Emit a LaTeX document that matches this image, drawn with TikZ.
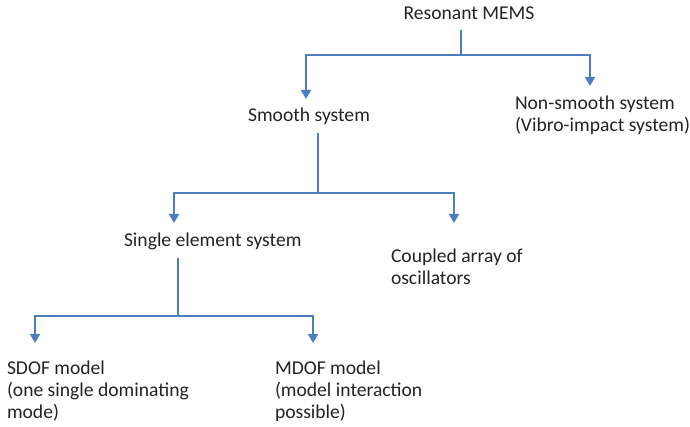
\documentclass[tikz,border=0pt]{standalone}
\usepackage{fontspec}
\setmainfont{Carlito}
\usetikzlibrary{arrows.meta}
\definecolor{lineblue}{RGB}{74,126,193}
\definecolor{txt}{RGB}{35,35,35}
\begin{document}
\begin{tikzpicture}[x=1pt,y=-1pt,
  lbl/.style={inner sep=0pt,outer sep=0pt,text=txt,font=\fontsize{19.6}{22}\selectfont,align=left},
  conn/.style={draw=lineblue,line width=1.8pt},
  arr/.style={conn,-{Triangle[width=10pt,length=9pt]}}]
\useasboundingbox (0,0) rectangle (690,427);
% labels (base = baseline of the last line)
\node[lbl,anchor=base] (res) at (469,20) {Resonant MEMS};
\node[lbl,anchor=base] (smooth) at (309,122) {Smooth system};
\node[lbl,anchor=base west] (nonsmooth) at (515,132) {Non-smooth system\\(Vibro-impact system)};
\node[lbl,anchor=base west] (single) at (124,247) {Single element system};
\node[lbl,anchor=base west] (coupled) at (391,285) {Coupled array of\\oscillators};
\node[lbl,anchor=base west] (sdof) at (7,418) {SDOF model\\(one single dominating\\mode)};
\node[lbl,anchor=base west] (mdof) at (275,418) {MDOF model\\(model interaction\\possible)};
% junction coordinates
\coordinate (s1) at (461,30);
\coordinate (j1) at (461,55);
\coordinate (t1) at (306,99);
\coordinate (t2) at (590,86);
\coordinate (s2) at (318,133);
\coordinate (j2) at (318,193);
\coordinate (t3) at (174,223);
\coordinate (t4) at (454,223);
\coordinate (s3) at (178,258);
\coordinate (j3) at (178,316);
\coordinate (t5) at (35,343);
\coordinate (t6) at (313,343);
% connectors
\draw[conn] (s1) -- (j1);
\draw[arr] (j1) -| (t1);
\draw[arr] (j1) -| (t2);
\draw[conn] (s2) -- (j2);
\draw[arr] (j2) -| (t3);
\draw[arr] (j2) -| (t4);
\draw[conn] (s3) -- (j3);
\draw[arr] (j3) -| (t5);
\draw[arr] (j3) -| (t6);
\end{tikzpicture}
\end{document}
